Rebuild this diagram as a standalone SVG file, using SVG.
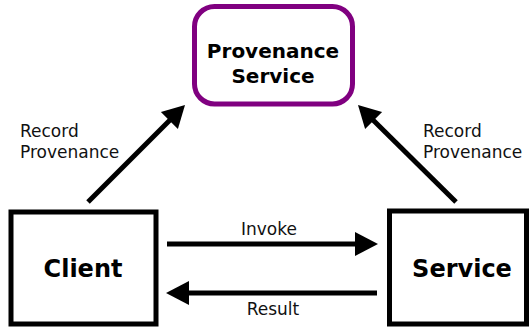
<svg xmlns="http://www.w3.org/2000/svg" width="529" height="327" viewBox="0 0 529 327">
<style>
.box{fill:#fff;stroke:#000;stroke-width:5}
.bold{font-family:"DejaVu Sans",sans-serif;font-weight:bold;fill:#000;text-anchor:middle}
.lbl{font-family:"DejaVu Sans",sans-serif;font-size:17px;fill:#111}
.ln{stroke:#000;stroke-width:5;fill:none}
.hd{fill:#000}
</style>
<rect width="529" height="327" fill="#fff"/>
<g id="provenance-service">
<rect x="194.5" y="6.5" width="158" height="97.5" rx="20" fill="#fff" stroke="#800080" stroke-width="5"/>
<text class="bold" x="273" y="58" font-size="20">Provenance</text>
<text class="bold" x="273" y="83" font-size="20">Service</text>
</g>
<g id="client">
<rect class="box" x="11" y="212" width="145" height="112"/>
<text class="bold" x="83" y="277" font-size="24">Client</text>
</g>
<g id="service">
<rect class="box" x="389.5" y="211" width="137" height="113"/>
<text class="bold" x="462" y="277" font-size="24">Service</text>
</g>
<g id="connectors">
<line class="ln" x1="167" y1="244" x2="357" y2="244"/>
<polygon class="hd" points="355,232 378,244 355,256"/>
<line class="ln" x1="377" y1="293" x2="186" y2="293"/>
<polygon class="hd" points="189,281 166,293 189,305"/>
<line class="ln" x1="88" y1="202" x2="171" y2="119"/>
<polygon class="hd" points="185,105 177.9,129.1 160.9,112.1"/>
<line class="ln" x1="456" y1="202" x2="372" y2="119"/>
<polygon class="hd" points="358,105 382.1,112.1 365.1,129.1"/>
<text class="lbl" x="269" y="235" text-anchor="middle">Invoke</text>
<text class="lbl" x="273" y="315" text-anchor="middle">Result</text>
<text class="lbl" x="20" y="137">Record</text>
<text class="lbl" x="20" y="158">Provenance</text>
<text class="lbl" x="423" y="137">Record</text>
<text class="lbl" x="423" y="158">Provenance</text>
</g>
</svg>
